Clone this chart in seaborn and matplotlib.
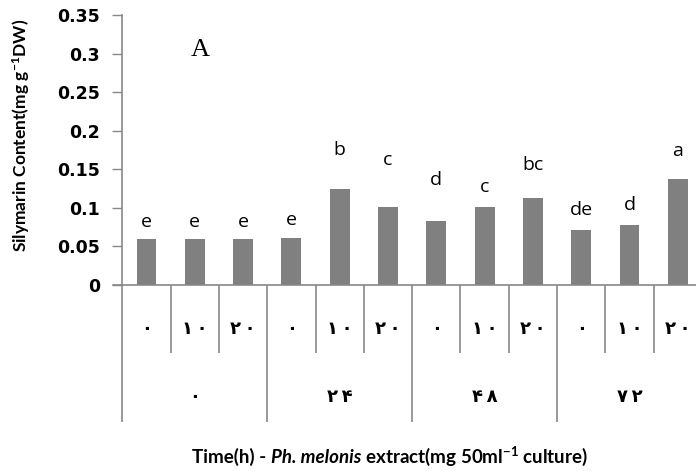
import matplotlib
matplotlib.use("Agg")
import matplotlib.pyplot as plt
import matplotlib.transforms as mtransforms
import seaborn as sns
import pandas as pd

# ---- data ----
time_groups = ["۰", "۲۴", "۴۸", "۷۲"]
extract_levels = ["۰", "۱۰", "۲۰"]
silymarin = [0.060, 0.060, 0.060, 0.061, 0.125, 0.101,
             0.083, 0.101, 0.113, 0.071, 0.078, 0.137]
letters = ["e", "e", "e", "e", "b", "c", "d", "c", "bc", "de", "d", "a"]
letter_heights = [0.0756, 0.0756, 0.0756, 0.0778, 0.1685, 0.1556,
                  0.1296, 0.1202, 0.149, 0.0907, 0.0972, 0.1672]
y_ticks = [0, 0.05, 0.1, 0.15, 0.2, 0.25, 0.3, 0.35]

cond = [f"{t}-{e}" for t in time_groups for e in extract_levels]
df = pd.DataFrame({"cond": cond, "value": silymarin})

sns.set_theme(style="white")
plt.rcParams["mathtext.fontset"] = "custom"
plt.rcParams["mathtext.rm"] = "Lato:bold"
plt.rcParams["mathtext.bf"] = "Lato:bold"
plt.rcParams["mathtext.it"] = "Lato:italic:bold"

fig = plt.figure(figsize=(6.96, 4.71), dpi=100)
W, H = 696, 471
ax_left, ax_right = 122.3, 702.0
ax_bottom, ax_top = 285.0, 15.0
ax = fig.add_axes([ax_left / W, 1 - ax_bottom / H,
                   (ax_right - ax_left) / W, (ax_bottom - ax_top) / H])

sns.barplot(data=df, x="cond", y="value", order=cond, color="#808080",
            saturation=1, width=0.41, ax=ax)
for p in ax.patches:
    p.set_edgecolor("none")

ax.set_ylim(0, 0.35)
ax.set_xlim(-0.5, len(cond) - 0.5)
ax.set_yticks(y_ticks)
ax.set_yticklabels([f"{v:g}" for v in y_ticks], fontfamily="DejaVu Sans",
                   fontweight="bold", fontsize=12.5, color="black")
ax.tick_params(axis="y", direction="out", length=7, width=1, color="#888888",
               pad=9, left=True)
ax.set_xticks([])
ax.set_xlabel("")
ax.set_ylabel("")
for s in ["top", "right"]:
    ax.spines[s].set_visible(False)
for s in ["left", "bottom"]:
    ax.spines[s].set_color("#888888")
    ax.spines[s].set_linewidth(1.2)

# letters above bars
for i, (lab, h) in enumerate(zip(letters, letter_heights)):
    ax.text(i, h, lab, ha="center", va="baseline", fontsize=14,
            fontfamily="Open Sans", color="black")

# panel letter
ax.text(200 / W, 1 - 56.5 / H, "A", transform=fig.transFigure, ha="center",
        va="baseline", fontsize=19, fontfamily="Liberation Serif", color="black")

# multi-level category axis
trans = mtransforms.blended_transform_factory(ax.transData, ax.transAxes)
ax_h = ax_bottom - ax_top
short_y = -(353 - ax_bottom) / ax_h
long_y = -(421.7 - ax_bottom) / ax_h
n_ext = len(extract_levels)
for b in range(len(cond) + 1):
    y1 = long_y if b % n_ext == 0 else short_y
    ax.plot([b - 0.5, b - 0.5], [0, y1], transform=trans, color="#888888",
            lw=1.2, clip_on=False, solid_capstyle="butt")
# baseline extension to the left of the y-axis
ax.plot([-0.5 - 9.5 / 48.3, -0.5], [0, 0], transform=trans, color="#888888",
        lw=1.2, clip_on=False)

inner_y = -(329 - ax_bottom) / ax_h
group_y = -(396.7 - ax_bottom) / ax_h
for i, c in enumerate(cond):
    ax.text(i, inner_y, "\u2009".join(extract_levels[i % n_ext]),
            transform=trans, ha="center", va="center", fontsize=13,
            fontweight="bold", fontfamily=["DejaVu Sans"], color="black")
for g, t in enumerate(time_groups):
    ax.text(g * n_ext + (n_ext - 1) / 2, group_y, "\u2009".join(t),
            transform=trans, ha="center", va="center", fontsize=13,
            fontweight="bold", fontfamily=["DejaVu Sans"], color="black")

# x-axis title built from pieces (bold, bold-italic, bold)
pieces = [("Time(h) - ", "normal"), ("Ph. melonis", "italic"),
          (" extract(mg 50ml$^{-1}$ culture)", "normal")]
renderer = fig.canvas.get_renderer()
objs = []
for txt, style in pieces:
    t = fig.text(0, 1 - 463 / H, txt, ha="left", va="baseline", fontsize=13.5,
                 fontweight="bold", fontstyle=style, fontfamily="Lato",
                 color="black")
    objs.append(t)
widths = [o.get_window_extent(renderer).width for o in objs]
total = sum(widths)
x0 = 390 - total / 2
for o, w in zip(objs, widths):
    o.set_x(x0 / W)
    x0 += w

fig.text(21 / W, 1 - 135 / H, r"Silymarin Content(mg g$^{-1}$DW)",
         rotation=90, ha="center", va="center", fontsize=12.5,
         fontweight="bold", fontfamily="Lato", color="black")

fig.savefig("out.png", dpi=100)
